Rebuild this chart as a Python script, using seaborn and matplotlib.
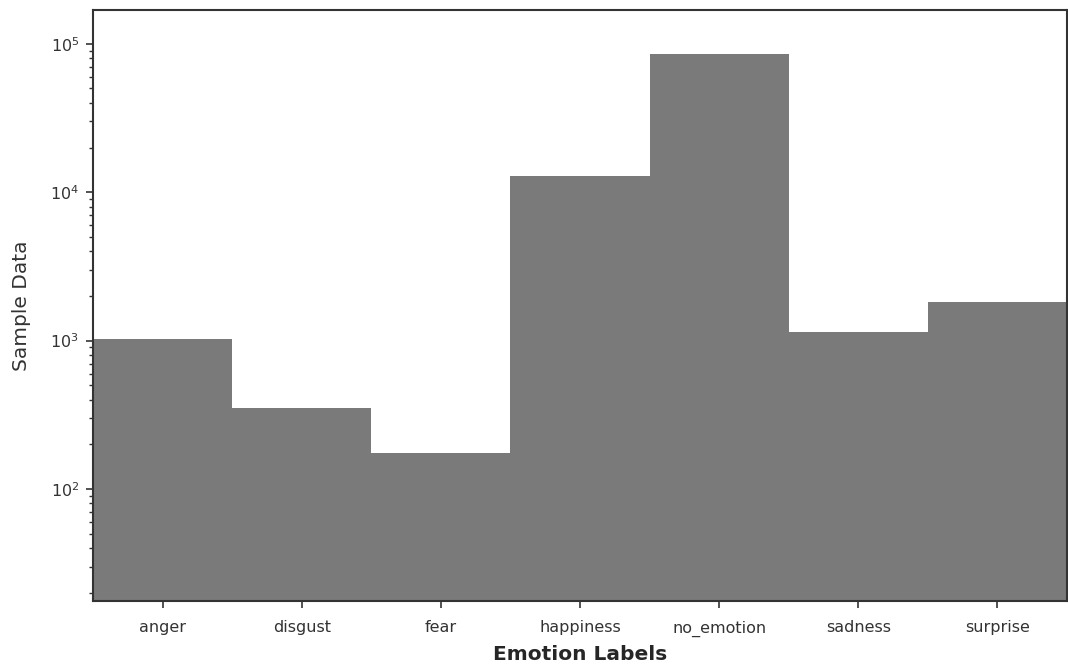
import matplotlib
matplotlib.use("Agg")
import matplotlib.pyplot as plt
import seaborn as sns
import pandas as pd

labels = ["anger", "disgust", "fear", "happiness", "no_emotion", "sadness", "surprise"]
counts = [1022, 353, 174, 12885, 85572, 1150, 1823]

sns.set_style("ticks")
plt.rcParams['font.family'] = ['DejaVu Sans']

df = pd.DataFrame({"label": labels, "count": counts})

fig = plt.figure(figsize=(10.68, 6.68), dpi=100)
ax = fig.add_axes([93/1068, 1 - 601/668, (1067-93)/1068, (601-10)/668])
sns.barplot(data=df, x="label", y="count", color="#7a7a7a", saturation=1,
            width=1.0, edgecolor="none", linewidth=0, ax=ax)
ax.set_yscale("log")
ax.set_xlim(-0.5, 6.5)
ax.set_ylim(17.6, 1.69e5)
for s in ax.spines.values():
    s.set_color("#333333")
    s.set_linewidth(1.5)
ax.tick_params(axis="both", which="major", length=5, width=1.2, pad=5,
               labelsize=11.5, colors="#333333", labelcolor="#333333")
ax.tick_params(axis="y", which="minor", length=3, width=1, colors="#333333")
ax.tick_params(axis="x", which="major", pad=9)
ax.set_xlabel("Emotion Labels", fontsize=14.5, fontweight="bold", labelpad=6)
ax.set_ylabel("Sample Data", fontsize=14.5, color="#333333", labelpad=14)
fig.savefig("out.png", dpi=100)
